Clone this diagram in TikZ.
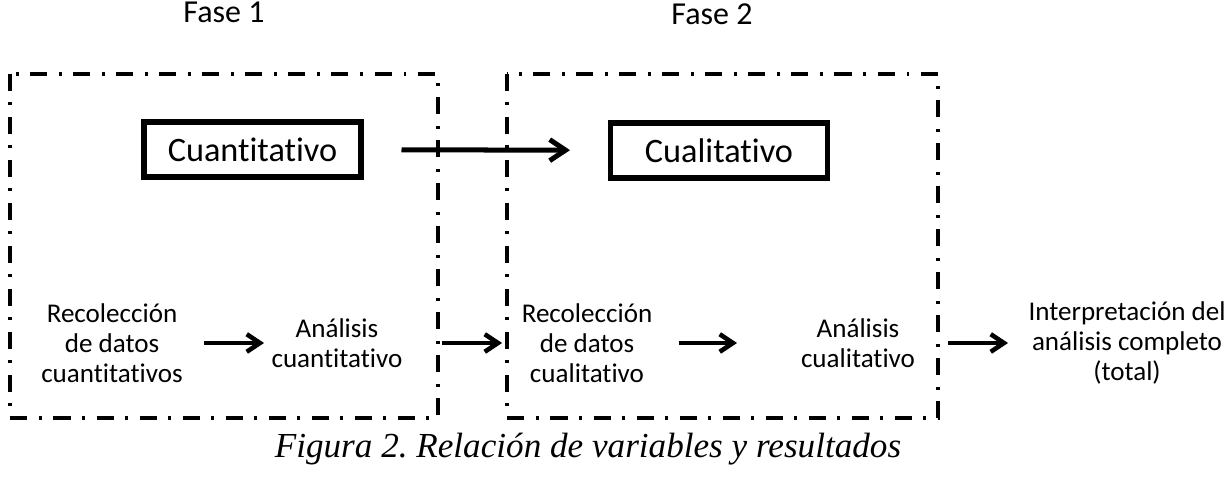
\documentclass[tikz,border=0pt]{standalone}
\usepackage{fontspec}
\setmainfont{Carlito}[RawFeature=-liga]
\newfontfamily\captionfont{Liberation Serif}
\usepackage{tikz}
\usetikzlibrary{arrows.meta, positioning, calc}
\frenchspacing
\tikzset{
  fasebox/.style={draw=black, line width=2.3pt,
                  dash pattern=on 9.7pt off 6.3pt on 1.7pt off 6.8pt},
  tipobox/.style={rectangle, draw=black, line width=2.85pt, inner sep=0pt,
                  minimum width=4.34cm, minimum height=1.1cm,
                  font=\fontsize{19.5}{22}\selectfont},
  fasetxt/.style={anchor=base, inner sep=0pt, font=\fontsize{18.2}{21}\selectfont},
  pasotxt/.style={align=center, inner sep=0pt, font=\fontsize{15.4}{17}\selectfont},
  flecha/.style={line width=2.85pt, -{Straight Barb[length=9pt, width=12pt]}},
  flechita/.style={line width=2.6pt, -{Straight Barb[length=7.5pt, width=10pt]}},
}
\begin{document}
\begin{tikzpicture}
    \useasboundingbox (0,0) rectangle (24.5,-9.76);
    % Fases
    \node[fasetxt] (fase1) at (4.48,-0.46) {Fase 1};
    \node[fasetxt] (fase2) at (14.24,-0.50) {Fase 2};
    \draw[fasebox] (0.2,-1.48) rectangle (8.76,-8.36);
    \draw[fasebox] (10.14,-1.48) rectangle (18.76,-8.36);
    % Enfoques
    \node[tipobox] (cuanti) at (5.05,-2.99) {Cuantitativo};
    \node[tipobox] (cuali) at (14.38,-3.01) {Cualitativo};
    \draw[flecha, shorten <=2.98cm, shorten >=2.98cm] (cuanti.center) -- (cuali.center);
    % Pasos
    \node[pasotxt] (rec1) at (2.24,-6.86) {Recolección\\de datos\\cuantitativos};
    \node[pasotxt] (an1) at (6.74,-6.86) {Análisis\\cuantitativo};
    \node[pasotxt] (rec2) at (11.74,-6.86) {Recolección\\de datos\\cualitativo};
    \node[pasotxt] (an2) at (17.16,-6.86) {Análisis\\cualitativo};
    \node[pasotxt] (interp) at (22.54,-6.86) {Interpretación del\\análisis completo\\(total)};
    \draw[flechita, shorten <=1.84cm, shorten >=1.46cm] (rec1.center) -- (an1.center);
    \draw[flechita, shorten <=2.1cm, shorten >=1.7cm] (an1.center) -- (rec2.center);
    \draw[flechita, shorten <=1.84cm, shorten >=2.42cm] (rec2.center) -- (an2.center);
    \draw[flechita, shorten <=1.8cm, shorten >=2.38cm] (an2.center) -- (interp.center);
    % Pie
    \node[anchor=base, inner sep=0pt, font=\captionfont\itshape\fontsize{20}{24}\selectfont]
      (pie) at (11.76,-9.14) {Figura 2. Relación de variables y resultados};
\end{tikzpicture}
\end{document}
